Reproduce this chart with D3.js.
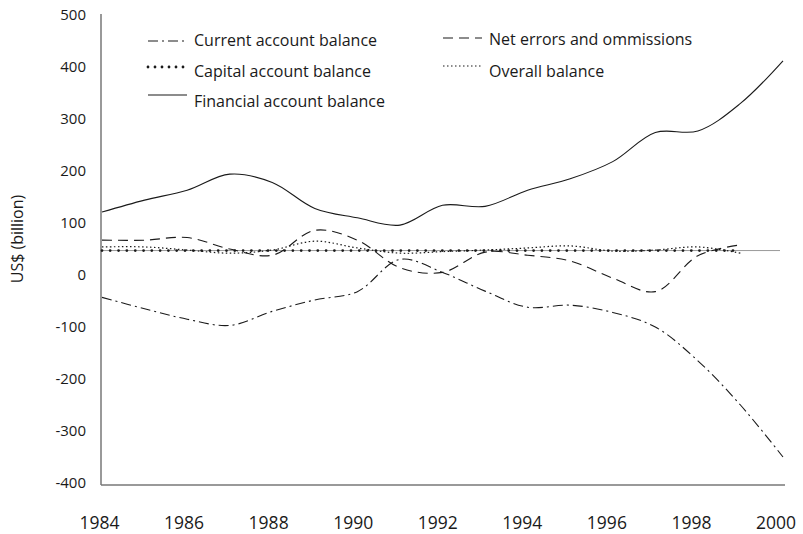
<!DOCTYPE html>
<html>
<head>
<meta charset="utf-8">
<script src="https://cdn.jsdelivr.net/npm/d3@7"></script>
<style>
  body { margin: 0; background: #fff; }
  svg { display: block; font-family: "Open Sans", sans-serif; }
</style>
</head>
<body>
<svg width="803" height="534"></svg>
<script>
const years = d3.range(1984, 2001);
const yTicks = [500, 400, 300, 200, 100, 0, -100, -200, -300, -400];
const xTicks = [1984, 1986, 1988, 1990, 1992, 1994, 1996, 1998, 2000];

// values (US$ billion)
const currentAccount = [-43, -65, -85, -97, -70, -48, -32, 30, 5, -31, -62, -58, -72, -100, -165, -250, -350];
const capitalAccount = [47, 47, 47, 47, 47, 47, 47, 47, 47, 47, 47, 47, 47, 47, 47, 47];
const financialAccount = [121, 144, 163, 194, 178, 128, 110, 96, 134, 132, 163, 185, 218, 274, 277, 330, 412];
const netErrors = [67, 67, 72, 50, 38, 86, 67, 14, 5, 44, 38, 27, -6, -32, 37, 58];
const overallBalance = [54, 54, 48, 42, 48, 65, 52, 42, 45, 48, 52, 56, 46, 48, 54, 42];
const refLevel = 47;

const series = [
  { name: "Current account balance", values: currentAccount, dash: "10,4,2,4", width: 1.1, cap: "butt" },
  { name: "Capital account balance", values: capitalAccount, dash: "0,8.3", width: 2.8, cap: "round" },
  { name: "Financial account balance", values: financialAccount, dash: null, width: 1.1, cap: "butt" },
  { name: "Net errors and ommissions", values: netErrors, dash: "10,6", width: 1.1, cap: "butt" },
  { name: "Overall balance", values: overallBalance, dash: "1.5,2.5", width: 1.2, cap: "butt" }
];

const svg = d3.select("svg");
const x = d3.scaleLinear().domain([1984, 2000]).range([102, 783]);
const xLabel = x.copy().range([99.5, 776]);
const y = d3.scaleLinear().domain([-400, 500]).range([483, 15]);

const ink = "#1a1a1a";

// reference line
svg.append("line")
  .attr("x1", 101).attr("x2", 780)
  .attr("y1", y(refLevel)).attr("y2", y(refLevel))
  .attr("stroke", "#9a9a9a").attr("stroke-width", 1);

// axes lines
svg.append("line").attr("x1", 101).attr("x2", 101).attr("y1", 14).attr("y2", 485)
  .attr("stroke", "#777").attr("stroke-width", 1.5);
svg.append("line").attr("x1", 101).attr("x2", 785).attr("y1", 485).attr("y2", 485)
  .attr("stroke", "#777").attr("stroke-width", 1.5);

// y tick labels
svg.append("g").selectAll("text").data(yTicks).join("text")
  .attr("x", 86).attr("y", d => y(d)).attr("dy", "0.36em")
  .attr("text-anchor", "end").attr("font-size", 15).attr("fill", ink)
  .text(d => d);

// x tick labels
svg.append("g").selectAll("text").data(xTicks).join("text")
  .attr("x", d => xLabel(d)).attr("y", 529)
  .attr("text-anchor", "middle").attr("font-size", 17.5).attr("fill", ink)
  .text(d => d);

// y title
svg.append("text")
  .attr("transform", "translate(23,239) rotate(-90)")
  .attr("text-anchor", "middle").attr("font-size", 16).attr("fill", ink)
  .text("US$ (billion)");

const line = d3.line()
  .x((d, i) => x(years[i]))
  .y(d => y(d))
  .curve(d3.curveCatmullRom.alpha(0.5));

svg.append("g").selectAll("path").data(series).join("path")
  .attr("d", d => line(d.values))
  .attr("fill", "none")
  .attr("stroke", ink)
  .attr("stroke-width", d => d.width)
  .attr("stroke-linecap", d => d.cap)
  .attr("stroke-dasharray", d => d.dash);

// legend
const legendPos = [
  { x: 148, ly: 41, ty: 40 },
  { x: 148, ly: 67, ty: 71 },
  { x: 148, ly: 95, ty: 101 },
  { x: 443, ly: 38, ty: 39 },
  { x: 443, ly: 66, ty: 71 }
];

const legend = svg.append("g").selectAll("g").data(series).join("g")
  .attr("transform", (d, i) => `translate(${legendPos[i].x},0)`);

legend.append("line")
  .attr("x1", 0).attr("x2", 39)
  .attr("y1", (d, i) => legendPos[i].ly).attr("y2", (d, i) => legendPos[i].ly)
  .attr("stroke", ink)
  .attr("stroke-width", d => d.width)
  .attr("stroke-linecap", d => d.cap)
  .attr("stroke-dasharray", (d, i) => i === 1 ? "0,7" : d.dash);

legend.append("text")
  .attr("x", 46).attr("y", (d, i) => legendPos[i].ty).attr("dy", "0.36em")
  .attr("font-size", 16).attr("fill", ink)
  .text(d => d.name);
</script>
</body>
</html>
